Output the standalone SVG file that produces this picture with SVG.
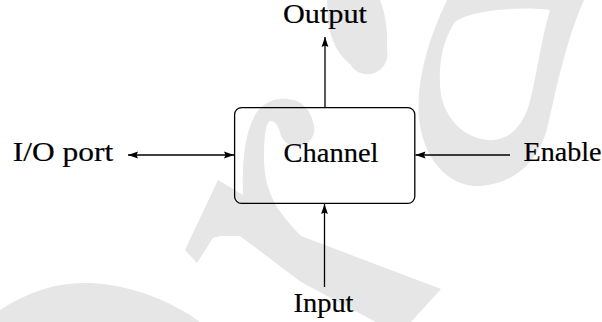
<svg xmlns="http://www.w3.org/2000/svg" width="602" height="322" viewBox="0 0 602 322">
  <defs>
    <marker id="arrow" viewBox="0 0 10 8" refX="10" refY="4" markerUnits="userSpaceOnUse" markerWidth="10" markerHeight="8" orient="auto-start-reverse">
      <path d="M0,0.6 L10,4 L0,7.4 L1.5,4 Z" fill="#000"/>
    </marker>
  </defs>
  <style>
    .mark { fill: #e6e6e6; stroke: none; }
    .box { fill: none; stroke: #000; stroke-width: 1.3; }
    .wire { fill: none; stroke: #000; stroke-width: 1.3; }
    .label { font-family: "Liberation Serif", "DejaVu Serif", serif; font-size: 27px; fill: #000; stroke: #000; stroke-width: 0.2; }
  </style>

  <rect width="602" height="322" fill="#fff"/>

  <!-- background emblem -->
  <g id="emblem">
    <!-- large loop on the right -->
    <path class="mark" fill-rule="evenodd" d="M447,0 C428,40 416,80 419,118 C423,160 450,188 480,186 C515,184 540,160 548,125 C556,90 566,40 584,0 Z
             M455,22 C470,10 520,6 550,10 C541,40 536,80 529,105 C521,130 505,142 488,140 C465,138 446,120 441,95 C437,65 443,40 455,22 Z"/>
    <!-- hooked stroke with ball end near the top -->
    <path class="mark" d="M327,0 L380,0 C385,12 388,30 387,50 A20,20 0 0 1 350,64 C338,55 331,40 328,22 Z"/>
    <!-- hook inside the box, leg and long diagonal -->
    <path class="mark" d="M243,195 C242,165 244,135 255,115 C263,102 275,98 288,99 C300,100 310,108 313,122
             A16,16 0 1 1 281,136 C279,128 276,120 270,121 C265,124 264,140 264,160 C265,185 270,205 301,236
             L441,289 L411,322 L376,322 L301,282 L240,236 L220,236 L213,238 L197,263 L185,250 L218,180 Z"/>
    <!-- sweep in the lower left corner -->
    <path class="mark" d="M0,310 C30,290 60,282 90,283 C130,285 170,300 200,322 L0,322 Z"/>
  </g>

  <!-- connectors -->
  <g id="connectors">
    <line class="wire" x1="325" y1="107" x2="325" y2="37" marker-end="url(#arrow)"/>
    <line class="wire" x1="324.5" y1="287" x2="324.5" y2="204" marker-end="url(#arrow)"/>
    <line class="wire" x1="128" y1="155" x2="234" y2="155" marker-start="url(#arrow)" marker-end="url(#arrow)"/>
    <line class="wire" x1="510" y1="155" x2="415.5" y2="155" marker-end="url(#arrow)"/>
  </g>

  <g id="channel">
    <rect class="box" x="234.6" y="107.6" width="180.2" height="95.8" rx="7" ry="7"/>
    <text class="label" x="283.5" y="162" textLength="95" lengthAdjust="spacingAndGlyphs">Channel</text>
  </g>
  <g id="output">
    <text class="label" x="283" y="23" textLength="84" lengthAdjust="spacingAndGlyphs">Output</text>
  </g>
  <g id="input">
    <text class="label" x="293.5" y="312" textLength="60" lengthAdjust="spacingAndGlyphs">Input</text>
  </g>
  <g id="io-port">
    <text class="label" x="12.7" y="161" textLength="100.5" lengthAdjust="spacingAndGlyphs">I/O port</text>
  </g>
  <g id="enable">
    <text class="label" x="523.5" y="161" textLength="78" lengthAdjust="spacingAndGlyphs">Enable</text>
  </g>
</svg>
